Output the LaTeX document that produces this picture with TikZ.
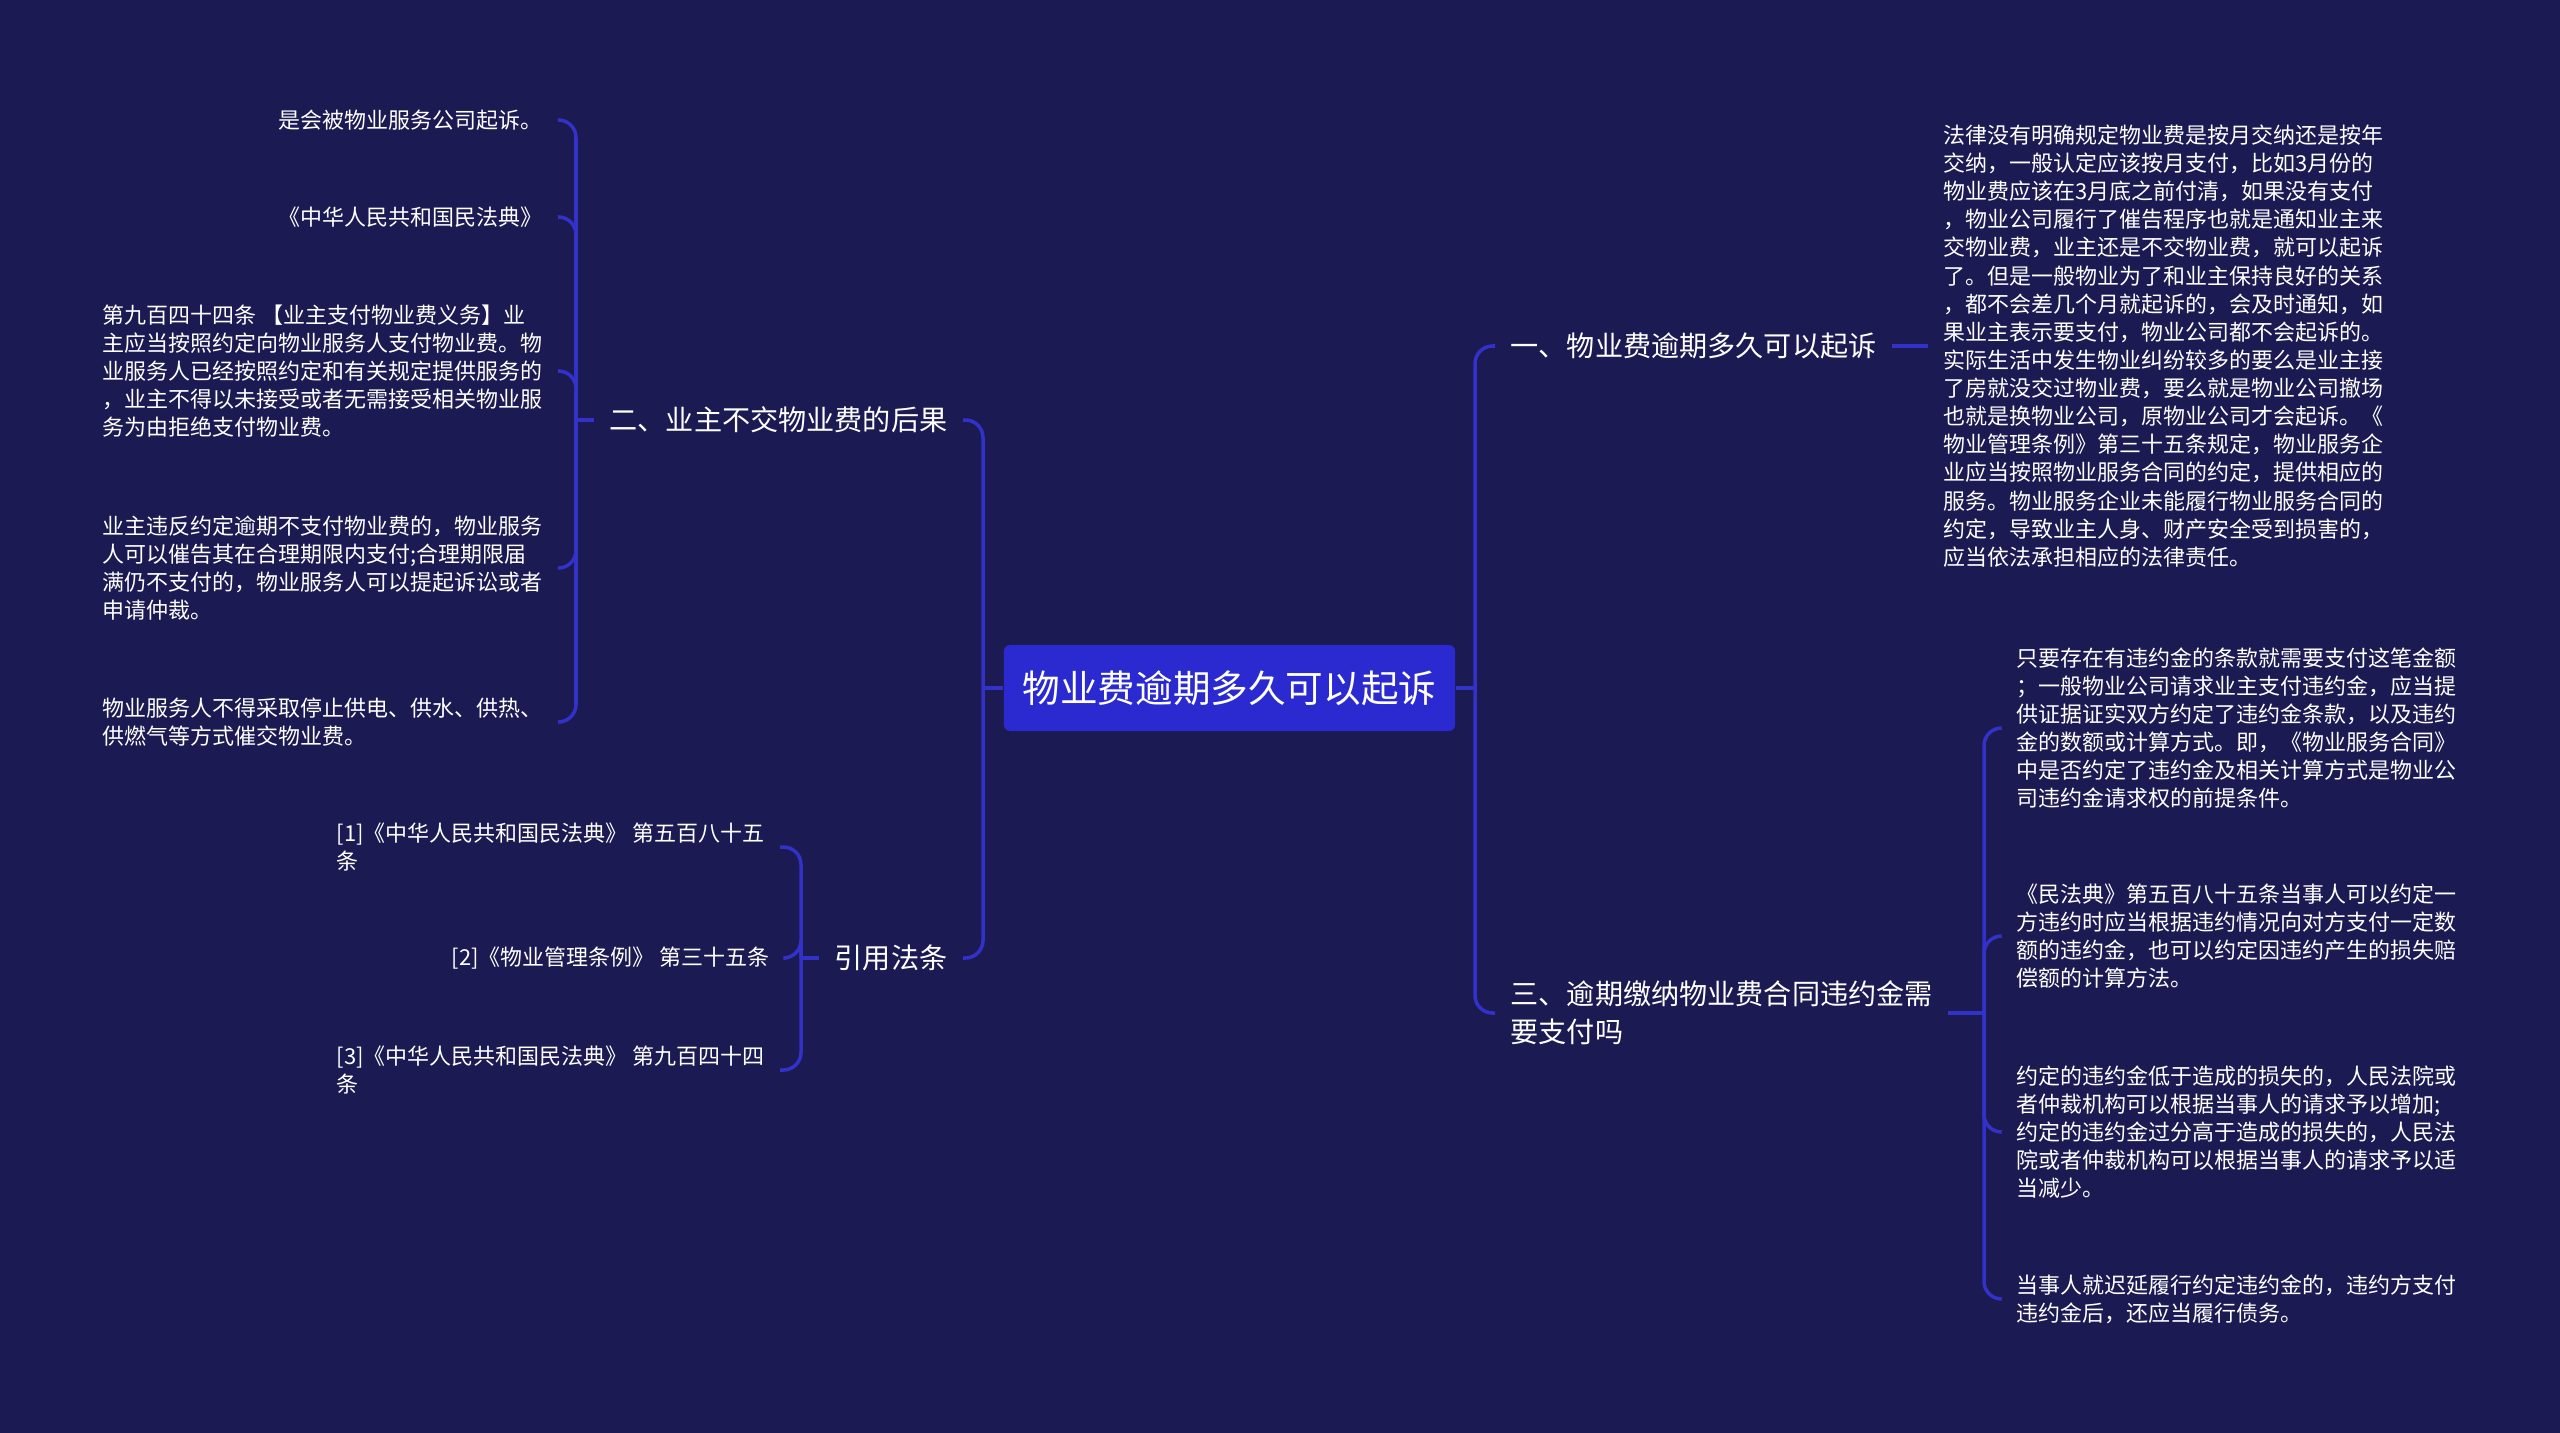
\documentclass[tikz,border=0pt]{standalone}
\usepackage{fontspec}
\setmainfont{Noto Sans CJK SC}
\usetikzlibrary{
  positioning  % 节点相对定位
}

\definecolor{bgnavy}{RGB}{27,26,82}
\definecolor{linkblue}{RGB}{50,50,200}
\definecolor{rootblue}{RGB}{42,42,208}

\tikzset{
  link/.style={linkblue, line width=1pt},
  elbow/.style={link, rounded corners=5pt},
  rootbox/.style={fill=rootblue, rounded corners=1.8pt, text=white,
    minimum width=4.51cm, minimum height=0.86cm,
    font=\fontsize{10.7pt}{12pt}\selectfont},
  branch/.style={text=white, align=left, inner xsep=0.15cm, inner ysep=0.04cm,
    font=\fontsize{8pt}{10.7pt}\selectfont},
  leaf/.style={text=white, align=left, inner xsep=0.15cm, inner ysep=0.04cm,
    font=\fontsize{6.25pt}{8pt}\selectfont},
}

\begin{document}
\begin{tikzpicture}[x=0.01cm, y=-0.01cm]
    % 背景
    \fill[bgnavy] (0,0) rectangle (2560,1433);
    \useasboundingbox (0,0) rectangle (2560,1433);

    % --- 中心主题 ---
    \node[rootbox] (root) at (1229.5,688) {物业费逾期多久可以起诉};
    \coordinate (rs) at (1475,688);
    \coordinate (ls) at (983,688);
    \draw[link] (root.east) -- (rs);
    \draw[link] (root.west) -- (ls);

    % --- 右侧：一、物业费逾期多久可以起诉 ---
    \node[branch, anchor=west] (b1) at (1495,346) {一、物业费逾期多久可以起诉};
    \draw[elbow] (rs) |- (b1.west);
    \node[leaf, anchor=west] (d1) at (1928,346) {%
      法律没有明确规定物业费是按月交纳还是按年\\
      交纳，一般认定应该按月支付，比如3月份的\\
      物业费应该在3月底之前付清，如果没有支付\\
      ，物业公司履行了催告程序也就是通知业主来\\
      交物业费，业主还是不交物业费，就可以起诉\\
      了。但是一般物业为了和业主保持良好的关系\\
      ，都不会差几个月就起诉的，会及时通知，如\\
      果业主表示要支付，物业公司都不会起诉的。\\
      实际生活中发生物业纠纷较多的要么是业主接\\
      了房就没交过物业费，要么就是物业公司撤场\\
      也就是换物业公司，原物业公司才会起诉。《\\
      物业管理条例》第三十五条规定，物业服务企\\
      业应当按照物业服务合同的约定，提供相应的\\
      服务。物业服务企业未能履行物业服务合同的\\
      约定，导致业主人身、财产安全受到损害的，\\
      应当依法承担相应的法律责任。};
    \draw[link] (b1.east) -- (d1.west);

    % --- 右侧：三、逾期缴纳物业费合同违约金需要支付吗 ---
    \node[branch, anchor=west] (b3) at (1495,1013) {三、逾期缴纳物业费合同违约金需\\要支付吗};
    \draw[elbow] (rs) |- (b3.west);
    \coordinate (bs3) at (1984,1013);
    \draw[link] (b3.east) -- (bs3);
    \node[leaf, anchor=west] (e1) at (2001,728) {%
      只要存在有违约金的条款就需要支付这笔金额\\
      ；一般物业公司请求业主支付违约金，应当提\\
      供证据证实双方约定了违约金条款，以及违约\\
      金的数额或计算方式。即，《物业服务合同》\\
      中是否约定了违约金及相关计算方式是物业公\\
      司违约金请求权的前提条件。};
    \node[leaf, anchor=west] (e2) at (2001,936) {%
      《民法典》第五百八十五条当事人可以约定一\\
      方违约时应当根据违约情况向对方支付一定数\\
      额的违约金，也可以约定因违约产生的损失赔\\
      偿额的计算方法。};
    \node[leaf, anchor=west] (e3) at (2001,1132) {%
      约定的违约金低于造成的损失的，人民法院或\\
      者仲裁机构可以根据当事人的请求予以增加;\\
      约定的违约金过分高于造成的损失的，人民法\\
      院或者仲裁机构可以根据当事人的请求予以适\\
      当减少。};
    \node[leaf, anchor=west] (e4) at (2001,1299) {%
      当事人就迟延履行约定违约金的，违约方支付\\
      违约金后，还应当履行债务。};
    \foreach \n in {e1,e2,e3,e4}{
      \draw[elbow] (bs3) |- (\n.west);
    }

    % --- 左侧：二、业主不交物业费的后果 ---
    \node[branch, anchor=east] (b2) at (963,420) {二、业主不交物业费的后果};
    \draw[elbow] (ls) |- (b2.east);
    \coordinate (bs2) at (576,420);
    \draw[link] (b2.west) -- (bs2);
    \node[leaf, anchor=east] (f1) at (558,120) {是会被物业服务公司起诉。};
    \node[leaf, anchor=east] (f2) at (558,217) {《中华人民共和国民法典》};
    \node[leaf, anchor=east] (f3) at (558,371) {%
      第九百四十四条 【业主支付物业费义务】业\\
      主应当按照约定向物业服务人支付物业费。物\\
      业服务人已经按照约定和有关规定提供服务的\\
      ，业主不得以未接受或者无需接受相关物业服\\
      务为由拒绝支付物业费。};
    \node[leaf, anchor=east] (f4) at (558,568) {%
      业主违反约定逾期不支付物业费的，物业服务\\
      人可以催告其在合理期限内支付;合理期限届\\
      满仍不支付的，物业服务人可以提起诉讼或者\\
      申请仲裁。};
    \node[leaf, anchor=east] (f5) at (558,722) {%
      物业服务人不得采取停止供电、供水、供热、\\
      供燃气等方式催交物业费。};
    \foreach \n in {f1,f2,f3,f4,f5}{
      \draw[elbow] (bs2) |- (\n.east);
    }

    % --- 左侧：引用法条 ---
    \node[branch, anchor=east] (b4) at (963,958) {引用法条};
    \draw[elbow] (ls) |- (b4.east);
    \coordinate (bs4) at (801,958);
    \draw[link] (b4.west) -- (bs4);
    \node[leaf, anchor=east] (g1) at (780,847) {[1]《中华人民共和国民法典》 第五百八十五\\条};
    \node[leaf, anchor=east] (g2) at (785,958) {[2]《物业管理条例》 第三十五条};
    \node[leaf, anchor=east] (g3) at (780,1070) {[3]《中华人民共和国民法典》 第九百四十四\\条};
    \foreach \n in {g1,g2,g3}{
      \draw[elbow] (bs4) |- (\n.east);
    }
\end{tikzpicture}
\end{document}
